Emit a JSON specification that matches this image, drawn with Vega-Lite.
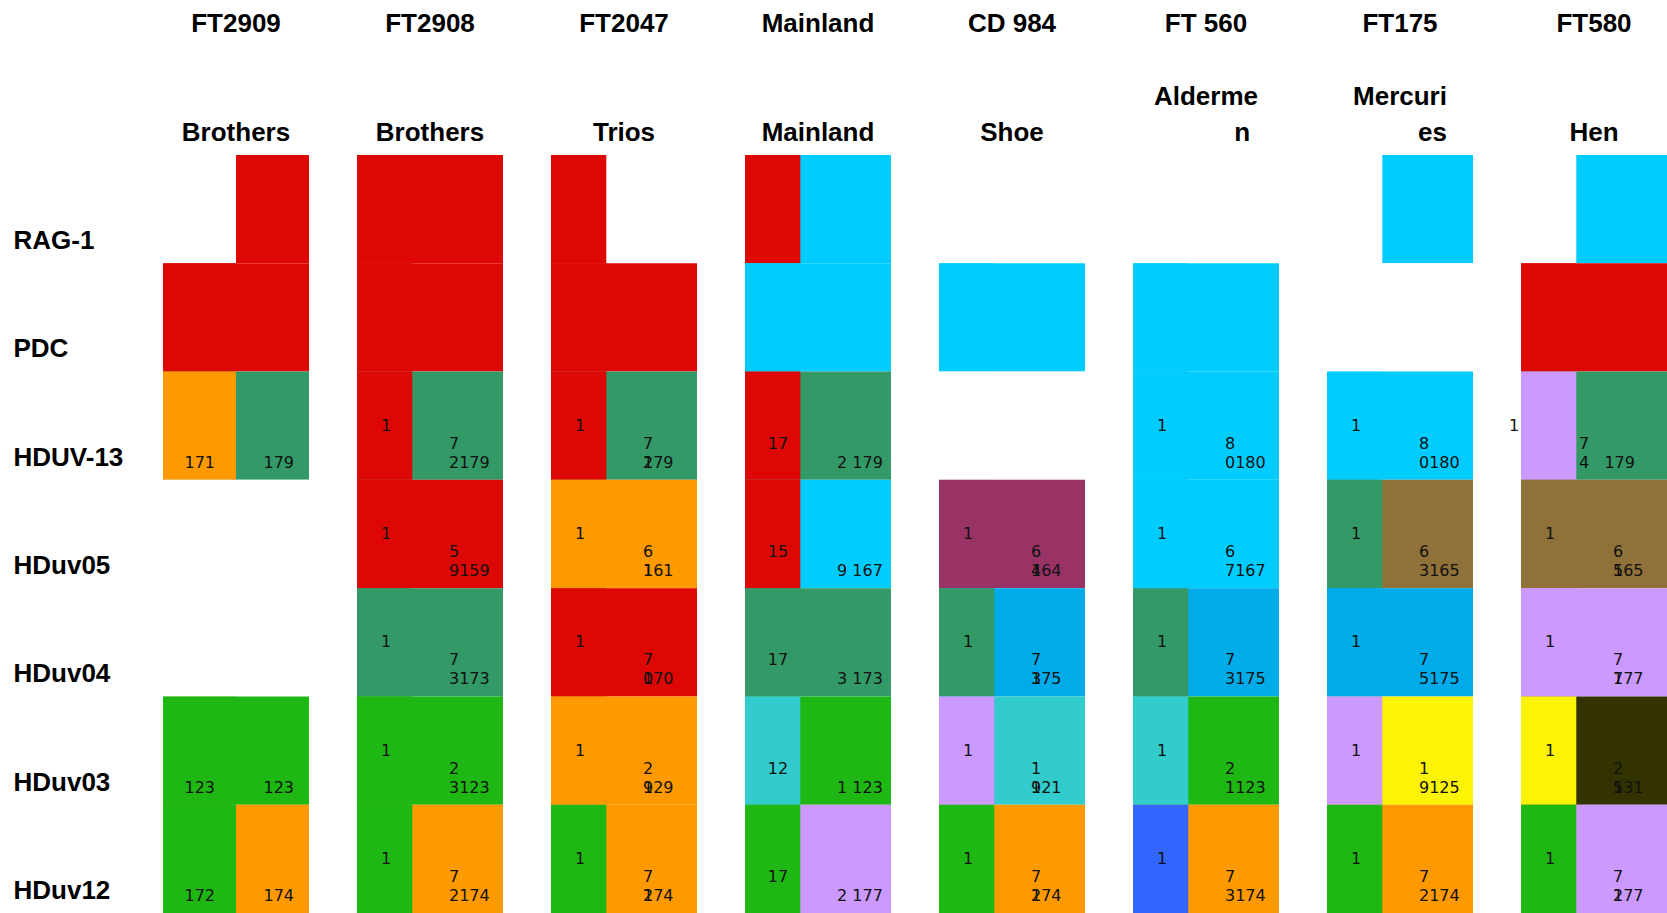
{
  "$schema": "https://vega.github.io/schema/vega-lite/v6.json",
  "width": 1504,
  "height": 758,
  "autosize": {"type": "none"},
  "padding": {"left": 163, "top": 155, "right": 0, "bottom": 0},
  "background": "#ffffff",
  "config": {"view": {"stroke": null}},
  "datasets": {
    "specimens": [
      {"specimen": "FT2909", "header": "FT2909|Brothers"},
      {"specimen": "FT2908", "header": "FT2908|Brothers"},
      {"specimen": "FT2047", "header": "FT2047|Trios"},
      {"specimen": "Mainland", "header": "Mainland|Mainland"},
      {"specimen": "CD 984", "header": "CD 984|Shoe"},
      {"specimen": "FT 560", "header": "FT 560|Alderme|\u200b\u00a0\u00a0\u00a0\u00a0\u00a0\u00a0\u00a0\u00a0\u00a0\u00a0n"},
      {"specimen": "FT175", "header": "FT175|Mercuri|\u200b\u00a0\u00a0\u00a0\u00a0\u00a0\u00a0\u00a0\u00a0\u00a0es"},
      {"specimen": "FT580", "header": "FT580|Hen"}
    ]
  },
  "data": {
    "values": [
      {"specimen": "FT2909", "locus": "RAG-1", "allele": 1, "hap": "none"},
      {"specimen": "FT2909", "locus": "RAG-1", "allele": 2, "hap": "H1"},
      {"specimen": "FT2908", "locus": "RAG-1", "allele": 1, "hap": "H1"},
      {"specimen": "FT2908", "locus": "RAG-1", "allele": 2, "hap": "H1"},
      {"specimen": "FT2047", "locus": "RAG-1", "allele": 1, "hap": "H1"},
      {"specimen": "FT2047", "locus": "RAG-1", "allele": 2, "hap": "none"},
      {"specimen": "Mainland", "locus": "RAG-1", "allele": 1, "hap": "H1"},
      {"specimen": "Mainland", "locus": "RAG-1", "allele": 2, "hap": "H2"},
      {"specimen": "CD 984", "locus": "RAG-1", "allele": 1, "hap": "none"},
      {"specimen": "CD 984", "locus": "RAG-1", "allele": 2, "hap": "none"},
      {"specimen": "FT 560", "locus": "RAG-1", "allele": 1, "hap": "none"},
      {"specimen": "FT 560", "locus": "RAG-1", "allele": 2, "hap": "none"},
      {"specimen": "FT175", "locus": "RAG-1", "allele": 1, "hap": "none"},
      {"specimen": "FT175", "locus": "RAG-1", "allele": 2, "hap": "H2"},
      {"specimen": "FT580", "locus": "RAG-1", "allele": 1, "hap": "none"},
      {"specimen": "FT580", "locus": "RAG-1", "allele": 2, "hap": "H2"},

      {"specimen": "FT2909", "locus": "PDC", "allele": 1, "hap": "H1"},
      {"specimen": "FT2909", "locus": "PDC", "allele": 2, "hap": "H1"},
      {"specimen": "FT2908", "locus": "PDC", "allele": 1, "hap": "H1"},
      {"specimen": "FT2908", "locus": "PDC", "allele": 2, "hap": "H1"},
      {"specimen": "FT2047", "locus": "PDC", "allele": 1, "hap": "H1"},
      {"specimen": "FT2047", "locus": "PDC", "allele": 2, "hap": "H1"},
      {"specimen": "Mainland", "locus": "PDC", "allele": 1, "hap": "H2"},
      {"specimen": "Mainland", "locus": "PDC", "allele": 2, "hap": "H2"},
      {"specimen": "CD 984", "locus": "PDC", "allele": 1, "hap": "H2"},
      {"specimen": "CD 984", "locus": "PDC", "allele": 2, "hap": "H2"},
      {"specimen": "FT 560", "locus": "PDC", "allele": 1, "hap": "H2"},
      {"specimen": "FT 560", "locus": "PDC", "allele": 2, "hap": "H2"},
      {"specimen": "FT175", "locus": "PDC", "allele": 1, "hap": "none"},
      {"specimen": "FT175", "locus": "PDC", "allele": 2, "hap": "none"},
      {"specimen": "FT580", "locus": "PDC", "allele": 1, "hap": "H1"},
      {"specimen": "FT580", "locus": "PDC", "allele": 2, "hap": "H1"},

      {"specimen": "FT2909", "locus": "HDUV-13", "allele": 1, "hap": "H4"},
      {"specimen": "FT2909", "locus": "HDUV-13", "allele": 2, "hap": "H3"},
      {"specimen": "FT2908", "locus": "HDUV-13", "allele": 1, "hap": "H1"},
      {"specimen": "FT2908", "locus": "HDUV-13", "allele": 2, "hap": "H3"},
      {"specimen": "FT2047", "locus": "HDUV-13", "allele": 1, "hap": "H1"},
      {"specimen": "FT2047", "locus": "HDUV-13", "allele": 2, "hap": "H3"},
      {"specimen": "Mainland", "locus": "HDUV-13", "allele": 1, "hap": "H1"},
      {"specimen": "Mainland", "locus": "HDUV-13", "allele": 2, "hap": "H3"},
      {"specimen": "CD 984", "locus": "HDUV-13", "allele": 1, "hap": "none"},
      {"specimen": "CD 984", "locus": "HDUV-13", "allele": 2, "hap": "none"},
      {"specimen": "FT 560", "locus": "HDUV-13", "allele": 1, "hap": "H2"},
      {"specimen": "FT 560", "locus": "HDUV-13", "allele": 2, "hap": "H2"},
      {"specimen": "FT175", "locus": "HDUV-13", "allele": 1, "hap": "H2"},
      {"specimen": "FT175", "locus": "HDUV-13", "allele": 2, "hap": "H2"},
      {"specimen": "FT580", "locus": "HDUV-13", "allele": 1, "hap": "H6"},
      {"specimen": "FT580", "locus": "HDUV-13", "allele": 2, "hap": "H3"},

      {"specimen": "FT2909", "locus": "HDuv05", "allele": 1, "hap": "none"},
      {"specimen": "FT2909", "locus": "HDuv05", "allele": 2, "hap": "none"},
      {"specimen": "FT2908", "locus": "HDuv05", "allele": 1, "hap": "H1"},
      {"specimen": "FT2908", "locus": "HDuv05", "allele": 2, "hap": "H1"},
      {"specimen": "FT2047", "locus": "HDuv05", "allele": 1, "hap": "H4"},
      {"specimen": "FT2047", "locus": "HDuv05", "allele": 2, "hap": "H4"},
      {"specimen": "Mainland", "locus": "HDuv05", "allele": 1, "hap": "H1"},
      {"specimen": "Mainland", "locus": "HDuv05", "allele": 2, "hap": "H2"},
      {"specimen": "CD 984", "locus": "HDuv05", "allele": 1, "hap": "H8"},
      {"specimen": "CD 984", "locus": "HDuv05", "allele": 2, "hap": "H8"},
      {"specimen": "FT 560", "locus": "HDuv05", "allele": 1, "hap": "H2"},
      {"specimen": "FT 560", "locus": "HDuv05", "allele": 2, "hap": "H2"},
      {"specimen": "FT175", "locus": "HDuv05", "allele": 1, "hap": "H3"},
      {"specimen": "FT175", "locus": "HDuv05", "allele": 2, "hap": "H9"},
      {"specimen": "FT580", "locus": "HDuv05", "allele": 1, "hap": "H9"},
      {"specimen": "FT580", "locus": "HDuv05", "allele": 2, "hap": "H9"},

      {"specimen": "FT2909", "locus": "HDuv04", "allele": 1, "hap": "none"},
      {"specimen": "FT2909", "locus": "HDuv04", "allele": 2, "hap": "none"},
      {"specimen": "FT2908", "locus": "HDuv04", "allele": 1, "hap": "H3"},
      {"specimen": "FT2908", "locus": "HDuv04", "allele": 2, "hap": "H3"},
      {"specimen": "FT2047", "locus": "HDuv04", "allele": 1, "hap": "H1"},
      {"specimen": "FT2047", "locus": "HDuv04", "allele": 2, "hap": "H1"},
      {"specimen": "Mainland", "locus": "HDuv04", "allele": 1, "hap": "H3"},
      {"specimen": "Mainland", "locus": "HDuv04", "allele": 2, "hap": "H3"},
      {"specimen": "CD 984", "locus": "HDuv04", "allele": 1, "hap": "H3"},
      {"specimen": "CD 984", "locus": "HDuv04", "allele": 2, "hap": "H10"},
      {"specimen": "FT 560", "locus": "HDuv04", "allele": 1, "hap": "H3"},
      {"specimen": "FT 560", "locus": "HDuv04", "allele": 2, "hap": "H10"},
      {"specimen": "FT175", "locus": "HDuv04", "allele": 1, "hap": "H10"},
      {"specimen": "FT175", "locus": "HDuv04", "allele": 2, "hap": "H10"},
      {"specimen": "FT580", "locus": "HDuv04", "allele": 1, "hap": "H6"},
      {"specimen": "FT580", "locus": "HDuv04", "allele": 2, "hap": "H6"},

      {"specimen": "FT2909", "locus": "HDuv03", "allele": 1, "hap": "H5"},
      {"specimen": "FT2909", "locus": "HDuv03", "allele": 2, "hap": "H5"},
      {"specimen": "FT2908", "locus": "HDuv03", "allele": 1, "hap": "H5"},
      {"specimen": "FT2908", "locus": "HDuv03", "allele": 2, "hap": "H5"},
      {"specimen": "FT2047", "locus": "HDuv03", "allele": 1, "hap": "H4"},
      {"specimen": "FT2047", "locus": "HDuv03", "allele": 2, "hap": "H4"},
      {"specimen": "Mainland", "locus": "HDuv03", "allele": 1, "hap": "H7"},
      {"specimen": "Mainland", "locus": "HDuv03", "allele": 2, "hap": "H5"},
      {"specimen": "CD 984", "locus": "HDuv03", "allele": 1, "hap": "H6"},
      {"specimen": "CD 984", "locus": "HDuv03", "allele": 2, "hap": "H7"},
      {"specimen": "FT 560", "locus": "HDuv03", "allele": 1, "hap": "H7"},
      {"specimen": "FT 560", "locus": "HDuv03", "allele": 2, "hap": "H5"},
      {"specimen": "FT175", "locus": "HDuv03", "allele": 1, "hap": "H6"},
      {"specimen": "FT175", "locus": "HDuv03", "allele": 2, "hap": "H12"},
      {"specimen": "FT580", "locus": "HDuv03", "allele": 1, "hap": "H12"},
      {"specimen": "FT580", "locus": "HDuv03", "allele": 2, "hap": "H13"},

      {"specimen": "FT2909", "locus": "HDuv12", "allele": 1, "hap": "H5"},
      {"specimen": "FT2909", "locus": "HDuv12", "allele": 2, "hap": "H4"},
      {"specimen": "FT2908", "locus": "HDuv12", "allele": 1, "hap": "H5"},
      {"specimen": "FT2908", "locus": "HDuv12", "allele": 2, "hap": "H4"},
      {"specimen": "FT2047", "locus": "HDuv12", "allele": 1, "hap": "H5"},
      {"specimen": "FT2047", "locus": "HDuv12", "allele": 2, "hap": "H4"},
      {"specimen": "Mainland", "locus": "HDuv12", "allele": 1, "hap": "H5"},
      {"specimen": "Mainland", "locus": "HDuv12", "allele": 2, "hap": "H6"},
      {"specimen": "CD 984", "locus": "HDuv12", "allele": 1, "hap": "H5"},
      {"specimen": "CD 984", "locus": "HDuv12", "allele": 2, "hap": "H4"},
      {"specimen": "FT 560", "locus": "HDuv12", "allele": 1, "hap": "H11"},
      {"specimen": "FT 560", "locus": "HDuv12", "allele": 2, "hap": "H4"},
      {"specimen": "FT175", "locus": "HDuv12", "allele": 1, "hap": "H5"},
      {"specimen": "FT175", "locus": "HDuv12", "allele": 2, "hap": "H4"},
      {"specimen": "FT580", "locus": "HDuv12", "allele": 1, "hap": "H5"},
      {"specimen": "FT580", "locus": "HDuv12", "allele": 2, "hap": "H6"},

      {"specimen": "FT2909", "locus": "HDUV-13", "role": "L", "text": "171"},
      {"specimen": "FT2909", "locus": "HDUV-13", "role": "R", "text": "179"},
      {"specimen": "FT2909", "locus": "HDuv03", "role": "L", "text": "123"},
      {"specimen": "FT2909", "locus": "HDuv03", "role": "R", "text": "123"},
      {"specimen": "FT2909", "locus": "HDuv12", "role": "L", "text": "172"},
      {"specimen": "FT2909", "locus": "HDuv12", "role": "R", "text": "174"},

      {"specimen": "FT2908", "locus": "HDUV-13", "role": "A", "text": "1"},
      {"specimen": "FT2908", "locus": "HDUV-13", "role": "B", "text": "7"},
      {"specimen": "FT2908", "locus": "HDUV-13", "role": "C", "text": "2179"},
      {"specimen": "FT2908", "locus": "HDuv05", "role": "A", "text": "1"},
      {"specimen": "FT2908", "locus": "HDuv05", "role": "B", "text": "5"},
      {"specimen": "FT2908", "locus": "HDuv05", "role": "C", "text": "9159"},
      {"specimen": "FT2908", "locus": "HDuv04", "role": "A", "text": "1"},
      {"specimen": "FT2908", "locus": "HDuv04", "role": "B", "text": "7"},
      {"specimen": "FT2908", "locus": "HDuv04", "role": "C", "text": "3173"},
      {"specimen": "FT2908", "locus": "HDuv03", "role": "A", "text": "1"},
      {"specimen": "FT2908", "locus": "HDuv03", "role": "B", "text": "2"},
      {"specimen": "FT2908", "locus": "HDuv03", "role": "C", "text": "3123"},
      {"specimen": "FT2908", "locus": "HDuv12", "role": "A", "text": "1"},
      {"specimen": "FT2908", "locus": "HDuv12", "role": "B", "text": "7"},
      {"specimen": "FT2908", "locus": "HDuv12", "role": "C", "text": "2174"},

      {"specimen": "FT2047", "locus": "HDUV-13", "role": "A", "text": "1"},
      {"specimen": "FT2047", "locus": "HDUV-13", "role": "B", "text": "7"},
      {"specimen": "FT2047", "locus": "HDUV-13", "role": "C", "text": "179"},
      {"specimen": "FT2047", "locus": "HDUV-13", "role": "C", "text": "2"},
      {"specimen": "FT2047", "locus": "HDuv05", "role": "A", "text": "1"},
      {"specimen": "FT2047", "locus": "HDuv05", "role": "B", "text": "6"},
      {"specimen": "FT2047", "locus": "HDuv05", "role": "C", "text": "161"},
      {"specimen": "FT2047", "locus": "HDuv05", "role": "C", "text": "1"},
      {"specimen": "FT2047", "locus": "HDuv04", "role": "A", "text": "1"},
      {"specimen": "FT2047", "locus": "HDuv04", "role": "B", "text": "7"},
      {"specimen": "FT2047", "locus": "HDuv04", "role": "C", "text": "170"},
      {"specimen": "FT2047", "locus": "HDuv04", "role": "C", "text": "0"},
      {"specimen": "FT2047", "locus": "HDuv03", "role": "A", "text": "1"},
      {"specimen": "FT2047", "locus": "HDuv03", "role": "B", "text": "2"},
      {"specimen": "FT2047", "locus": "HDuv03", "role": "C", "text": "129"},
      {"specimen": "FT2047", "locus": "HDuv03", "role": "C", "text": "9"},
      {"specimen": "FT2047", "locus": "HDuv12", "role": "A", "text": "1"},
      {"specimen": "FT2047", "locus": "HDuv12", "role": "B", "text": "7"},
      {"specimen": "FT2047", "locus": "HDuv12", "role": "C", "text": "174"},
      {"specimen": "FT2047", "locus": "HDuv12", "role": "C", "text": "2"},

      {"specimen": "Mainland", "locus": "HDUV-13", "role": "M", "text": "17"},
      {"specimen": "Mainland", "locus": "HDUV-13", "role": "C", "text": "2 179"},
      {"specimen": "Mainland", "locus": "HDuv05", "role": "M", "text": "15"},
      {"specimen": "Mainland", "locus": "HDuv05", "role": "C", "text": "9 167"},
      {"specimen": "Mainland", "locus": "HDuv04", "role": "M", "text": "17"},
      {"specimen": "Mainland", "locus": "HDuv04", "role": "C", "text": "3 173"},
      {"specimen": "Mainland", "locus": "HDuv03", "role": "M", "text": "12"},
      {"specimen": "Mainland", "locus": "HDuv03", "role": "C", "text": "1 123"},
      {"specimen": "Mainland", "locus": "HDuv12", "role": "M", "text": "17"},
      {"specimen": "Mainland", "locus": "HDuv12", "role": "C", "text": "2 177"},

      {"specimen": "CD 984", "locus": "HDuv05", "role": "A", "text": "1"},
      {"specimen": "CD 984", "locus": "HDuv05", "role": "B", "text": "6"},
      {"specimen": "CD 984", "locus": "HDuv05", "role": "C", "text": "164"},
      {"specimen": "CD 984", "locus": "HDuv05", "role": "C", "text": "4"},
      {"specimen": "CD 984", "locus": "HDuv04", "role": "A", "text": "1"},
      {"specimen": "CD 984", "locus": "HDuv04", "role": "B", "text": "7"},
      {"specimen": "CD 984", "locus": "HDuv04", "role": "C", "text": "175"},
      {"specimen": "CD 984", "locus": "HDuv04", "role": "C", "text": "3"},
      {"specimen": "CD 984", "locus": "HDuv03", "role": "A", "text": "1"},
      {"specimen": "CD 984", "locus": "HDuv03", "role": "B", "text": "1"},
      {"specimen": "CD 984", "locus": "HDuv03", "role": "C", "text": "121"},
      {"specimen": "CD 984", "locus": "HDuv03", "role": "C", "text": "9"},
      {"specimen": "CD 984", "locus": "HDuv12", "role": "A", "text": "1"},
      {"specimen": "CD 984", "locus": "HDuv12", "role": "B", "text": "7"},
      {"specimen": "CD 984", "locus": "HDuv12", "role": "C", "text": "174"},
      {"specimen": "CD 984", "locus": "HDuv12", "role": "C", "text": "2"},

      {"specimen": "FT 560", "locus": "HDUV-13", "role": "A", "text": "1"},
      {"specimen": "FT 560", "locus": "HDUV-13", "role": "B", "text": "8"},
      {"specimen": "FT 560", "locus": "HDUV-13", "role": "C", "text": "0180"},
      {"specimen": "FT 560", "locus": "HDuv05", "role": "A", "text": "1"},
      {"specimen": "FT 560", "locus": "HDuv05", "role": "B", "text": "6"},
      {"specimen": "FT 560", "locus": "HDuv05", "role": "C", "text": "7167"},
      {"specimen": "FT 560", "locus": "HDuv04", "role": "A", "text": "1"},
      {"specimen": "FT 560", "locus": "HDuv04", "role": "B", "text": "7"},
      {"specimen": "FT 560", "locus": "HDuv04", "role": "C", "text": "3175"},
      {"specimen": "FT 560", "locus": "HDuv03", "role": "A", "text": "1"},
      {"specimen": "FT 560", "locus": "HDuv03", "role": "B", "text": "2"},
      {"specimen": "FT 560", "locus": "HDuv03", "role": "C", "text": "1123"},
      {"specimen": "FT 560", "locus": "HDuv12", "role": "A", "text": "1"},
      {"specimen": "FT 560", "locus": "HDuv12", "role": "B", "text": "7"},
      {"specimen": "FT 560", "locus": "HDuv12", "role": "C", "text": "3174"},

      {"specimen": "FT175", "locus": "HDUV-13", "role": "A", "text": "1"},
      {"specimen": "FT175", "locus": "HDUV-13", "role": "B", "text": "8"},
      {"specimen": "FT175", "locus": "HDUV-13", "role": "C", "text": "0180"},
      {"specimen": "FT175", "locus": "HDuv05", "role": "A", "text": "1"},
      {"specimen": "FT175", "locus": "HDuv05", "role": "B", "text": "6"},
      {"specimen": "FT175", "locus": "HDuv05", "role": "C", "text": "3165"},
      {"specimen": "FT175", "locus": "HDuv04", "role": "A", "text": "1"},
      {"specimen": "FT175", "locus": "HDuv04", "role": "B", "text": "7"},
      {"specimen": "FT175", "locus": "HDuv04", "role": "C", "text": "5175"},
      {"specimen": "FT175", "locus": "HDuv03", "role": "A", "text": "1"},
      {"specimen": "FT175", "locus": "HDuv03", "role": "B", "text": "1"},
      {"specimen": "FT175", "locus": "HDuv03", "role": "C", "text": "9125"},
      {"specimen": "FT175", "locus": "HDuv12", "role": "A", "text": "1"},
      {"specimen": "FT175", "locus": "HDuv12", "role": "B", "text": "7"},
      {"specimen": "FT175", "locus": "HDuv12", "role": "C", "text": "2174"},

      {"specimen": "FT580", "locus": "HDUV-13", "role": "A0", "text": "1"},
      {"specimen": "FT580", "locus": "HDUV-13", "role": "B0", "text": "7"},
      {"specimen": "FT580", "locus": "HDUV-13", "role": "C0", "text": "4\u00a0\u00a0\u00a0179"},
      {"specimen": "FT580", "locus": "HDuv05", "role": "A", "text": "1"},
      {"specimen": "FT580", "locus": "HDuv05", "role": "B", "text": "6"},
      {"specimen": "FT580", "locus": "HDuv05", "role": "C", "text": "165"},
      {"specimen": "FT580", "locus": "HDuv05", "role": "C", "text": "5"},
      {"specimen": "FT580", "locus": "HDuv04", "role": "A", "text": "1"},
      {"specimen": "FT580", "locus": "HDuv04", "role": "B", "text": "7"},
      {"specimen": "FT580", "locus": "HDuv04", "role": "C", "text": "177"},
      {"specimen": "FT580", "locus": "HDuv04", "role": "C", "text": "7"},
      {"specimen": "FT580", "locus": "HDuv03", "role": "A", "text": "1"},
      {"specimen": "FT580", "locus": "HDuv03", "role": "B", "text": "2"},
      {"specimen": "FT580", "locus": "HDuv03", "role": "C", "text": "131"},
      {"specimen": "FT580", "locus": "HDuv03", "role": "C", "text": "5"},
      {"specimen": "FT580", "locus": "HDuv12", "role": "A", "text": "1"},
      {"specimen": "FT580", "locus": "HDuv12", "role": "B", "text": "7"},
      {"specimen": "FT580", "locus": "HDuv12", "role": "C", "text": "177"},
      {"specimen": "FT580", "locus": "HDuv12", "role": "C", "text": "2"}
    ]
  },
  "transform": [
    {"lookup": "specimen", "from": {"data": {"name": "specimens"}, "key": "specimen", "fields": ["header"]}}
  ],
  "encoding": {
    "x": {
      "field": "header",
      "type": "nominal",
      "scale": {
        "domain": [
          "FT2909|Brothers",
          "FT2908|Brothers",
          "FT2047|Trios",
          "Mainland|Mainland",
          "CD 984|Shoe",
          "FT 560|Alderme|\u200b\u00a0\u00a0\u00a0\u00a0\u00a0\u00a0\u00a0\u00a0\u00a0\u00a0n",
          "FT175|Mercuri|\u200b\u00a0\u00a0\u00a0\u00a0\u00a0\u00a0\u00a0\u00a0\u00a0es",
          "FT580|Hen"
        ],
        "paddingInner": 0.2474,
        "paddingOuter": 0
      },
      "axis": {
        "orient": "top",
        "title": null,
        "domain": false,
        "ticks": false,
        "tickSize": 0,
        "grid": false,
        "labelAngle": 0,
        "labelFont": "Liberation Sans",
        "labelFontSize": 26,
        "labelFontWeight": "bold",
        "labelColor": "#000000",
        "labelBaseline": "top",
        "labelAlign": "center",
        "labelPadding": 145,
        "labelLineHeight": 36.5,
        "labelLimit": 400,
        "labelOverlap": false,
        "labelExpr": "length(split(datum.value,'|')) == 2 ? [split(datum.value,'|')[0], '\u200b\u00a0', '\u200b\u00a0', split(datum.value,'|')[1]] : [split(datum.value,'|')[0], '\u200b\u00a0', split(datum.value,'|')[1], split(datum.value,'|')[2]]"
      }
    },
    "y": {
      "field": "locus",
      "type": "nominal",
      "scale": {
        "domain": ["RAG-1", "PDC", "HDUV-13", "HDuv05", "HDuv04", "HDuv03", "HDuv12"],
        "paddingInner": 0,
        "paddingOuter": 0
      },
      "axis": {
        "orient": "left",
        "title": null,
        "domain": false,
        "ticks": false,
        "tickSize": 0,
        "grid": false,
        "labelFont": "Liberation Sans",
        "labelFontSize": 26,
        "labelFontWeight": "bold",
        "labelColor": "#000000",
        "labelAlign": "left",
        "labelBaseline": "middle",
        "labelPadding": 150,
        "labelOffset": 32,
        "labelLimit": 300
      }
    }
  },
  "layer": [
    {
      "transform": [{"filter": "datum.allele == 2"}],
      "mark": {"type": "rect", "strokeWidth": 0},
      "encoding": {
        "color": {
          "field": "hap",
          "type": "nominal",
          "legend": null,
          "scale": {
            "domain": ["none", "H1", "H2", "H3", "H4", "H5", "H6", "H7", "H8", "H9", "H10", "H11", "H12", "H13"],
            "range": ["#ffffff", "#dd0806", "#00ccff", "#339966", "#ff9900", "#1fb714", "#cc99ff", "#33cccc", "#993366", "#90713a", "#00abea", "#3366ff", "#fcf305", "#333300"]
          }
        }
      }
    },
    {
      "transform": [{"filter": "datum.allele == 1 && datum.specimen != 'FT2909'"}],
      "mark": {"type": "rect", "strokeWidth": 0},
      "encoding": {
        "xOffset": {"field": "allele", "type": "nominal", "scale": {"domain": [1], "paddingInner": 0, "paddingOuter": 0.82, "align": 0}},
        "color": {
          "field": "hap",
          "type": "nominal",
          "legend": null,
          "scale": {
            "domain": ["none", "H1", "H2", "H3", "H4", "H5", "H6", "H7", "H8", "H9", "H10", "H11", "H12", "H13"],
            "range": ["#ffffff", "#dd0806", "#00ccff", "#339966", "#ff9900", "#1fb714", "#cc99ff", "#33cccc", "#993366", "#90713a", "#00abea", "#3366ff", "#fcf305", "#333300"]
          }
        }
      }
    },
    {
      "transform": [{"filter": "datum.allele == 1 && datum.specimen == 'FT2909'"}],
      "mark": {"type": "rect", "strokeWidth": 0},
      "encoding": {
        "xOffset": {"field": "allele", "type": "nominal", "scale": {"domain": [1], "paddingInner": 0, "paddingOuter": 0.5, "align": 0}},
        "color": {
          "field": "hap",
          "type": "nominal",
          "legend": null,
          "scale": {
            "domain": ["none", "H1", "H2", "H3", "H4", "H5", "H6", "H7", "H8", "H9", "H10", "H11", "H12", "H13"],
            "range": ["#ffffff", "#dd0806", "#00ccff", "#339966", "#ff9900", "#1fb714", "#cc99ff", "#33cccc", "#993366", "#90713a", "#00abea", "#3366ff", "#fcf305", "#333300"]
          }
        }
      }
    },
    {
      "transform": [{"filter": "datum.role == 'A'"}],
      "mark": {"type": "text", "font": "DejaVu Sans", "fontSize": 16, "color": "#111111", "align": "center", "baseline": "middle", "dx": -44, "dy": 0},
      "encoding": {"text": {"field": "text", "type": "nominal"}}
    },
    {
      "transform": [{"filter": "datum.role == 'B'"}],
      "mark": {"type": "text", "font": "DejaVu Sans", "fontSize": 16, "color": "#111111", "align": "left", "baseline": "middle", "dx": 19, "dy": 18},
      "encoding": {"text": {"field": "text", "type": "nominal"}}
    },
    {
      "transform": [{"filter": "datum.role == 'C'"}],
      "mark": {"type": "text", "font": "DejaVu Sans", "fontSize": 16, "color": "#111111", "align": "left", "baseline": "middle", "dx": 19, "dy": 37},
      "encoding": {"text": {"field": "text", "type": "nominal"}}
    },
    {
      "transform": [{"filter": "datum.role == 'M'"}],
      "mark": {"type": "text", "font": "DejaVu Sans", "fontSize": 16, "color": "#111111", "align": "center", "baseline": "middle", "dx": -40, "dy": 18},
      "encoding": {"text": {"field": "text", "type": "nominal"}}
    },
    {
      "transform": [{"filter": "datum.role == 'A0'"}],
      "mark": {"type": "text", "font": "DejaVu Sans", "fontSize": 16, "color": "#111111", "align": "center", "baseline": "middle", "dx": -80, "dy": 0},
      "encoding": {"text": {"field": "text", "type": "nominal"}}
    },
    {
      "transform": [{"filter": "datum.role == 'B0'"}],
      "mark": {"type": "text", "font": "DejaVu Sans", "fontSize": 16, "color": "#111111", "align": "left", "baseline": "middle", "dx": -15, "dy": 18},
      "encoding": {"text": {"field": "text", "type": "nominal"}}
    },
    {
      "transform": [{"filter": "datum.role == 'C0'"}],
      "mark": {"type": "text", "font": "DejaVu Sans", "fontSize": 16, "color": "#111111", "align": "left", "baseline": "middle", "dx": -15, "dy": 37},
      "encoding": {"text": {"field": "text", "type": "nominal"}}
    },
    {
      "transform": [{"filter": "datum.role == 'L'"}],
      "mark": {"type": "text", "font": "DejaVu Sans", "fontSize": 16, "color": "#111111", "align": "right", "baseline": "middle", "dx": -21, "dy": 37},
      "encoding": {"text": {"field": "text", "type": "nominal"}}
    },
    {
      "transform": [{"filter": "datum.role == 'R'"}],
      "mark": {"type": "text", "font": "DejaVu Sans", "fontSize": 16, "color": "#111111", "align": "right", "baseline": "middle", "dx": 58, "dy": 37},
      "encoding": {"text": {"field": "text", "type": "nominal"}}
    }
  ],
  "resolve": {"scale": {"xOffset": "independent"}}
}
